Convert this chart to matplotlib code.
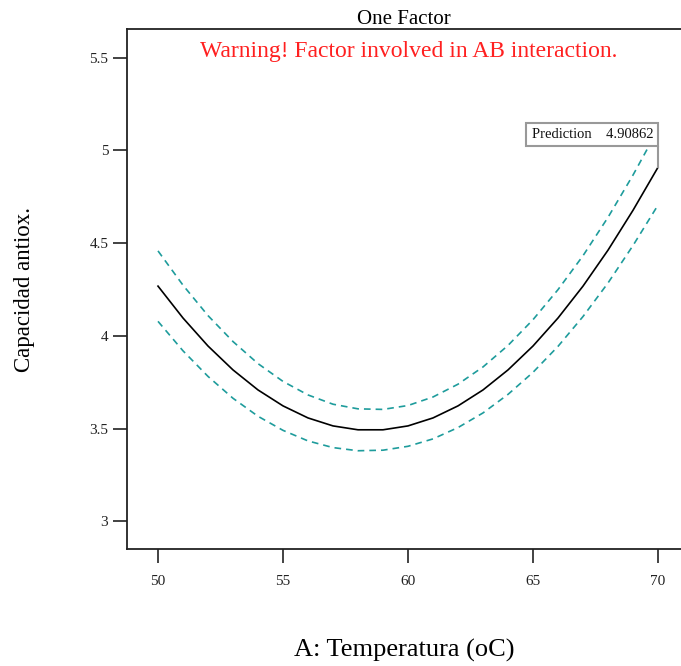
import matplotlib
matplotlib.use("Agg")
import matplotlib.pyplot as plt

# Data
temperature = [50, 51, 52, 53, 54, 55, 56, 57, 58, 59, 60,
               61, 62, 63, 64, 65, 66, 67, 68, 69, 70]
prediction = [4.268, 4.096, 3.945, 3.816, 3.708, 3.622, 3.557, 3.514, 3.493, 3.493, 3.514,
              3.557, 3.622, 3.708, 3.816, 3.945, 4.096, 4.268, 4.462, 4.677, 4.909]
upper_ci = [4.458, 4.273, 4.109, 3.969, 3.850, 3.754, 3.681, 3.631, 3.606, 3.603, 3.624,
            3.670, 3.739, 3.832, 3.948, 4.087, 4.249, 4.432, 4.639, 4.867, 5.113]
lower_ci = [4.078, 3.919, 3.781, 3.663, 3.566, 3.490, 3.433, 3.397, 3.380, 3.383, 3.404,
            3.444, 3.505, 3.584, 3.684, 3.803, 3.943, 4.104, 4.285, 4.487, 4.705]
x_ticks = [50, 55, 60, 65, 70]
y_ticks = [3, 3.5, 4, 4.5, 5, 5.5]
y_tick_labels = ["3", "3.5", "4", "4.5", "5", "5.5"]
pred_x = 70
pred_value = 4.90862

serif = ["Liberation Serif", "DejaVu Serif"]
plt.rcParams["font.family"] = serif

W, H = 681, 666
fig = plt.figure(figsize=(W / 100, H / 100), dpi=100)
left, right, top, bottom = 127, 681, 29, 549
ax = fig.add_axes([left / W, 1 - bottom / H, (right - left) / W, (bottom - top) / H])

teal = "#1e9c9c"
ax.plot(temperature, upper_ci, color=teal, lw=1.2, ls=(0, (4, 3)), zorder=2)
ax.plot(temperature, lower_ci, color=teal, lw=1.2, ls=(0, (4, 3)), zorder=2)
ax.plot(temperature, prediction, color="black", lw=1.2, zorder=3)

ax.set_xlim(48.76, 70.92)
ax.set_ylim(2.85, 5.655)
ax.set_xticks(x_ticks)
ax.set_xticklabels([str(v) for v in x_ticks])
ax.set_yticks(y_ticks)
ax.set_yticklabels(y_tick_labels)

for s in ["left", "bottom", "top"]:
    ax.spines[s].set_linewidth(1.3)
    ax.spines[s].set_color("#222222")
ax.spines["right"].set_visible(False)

ax.tick_params(axis="y", direction="out", length=10, width=1.2, labelsize=11, pad=3.5, colors="#222222")
ax.tick_params(axis="x", direction="out", length=10, width=1.2, labelsize=11, pad=8.5, colors="#222222")

ax.set_title("One Factor", fontsize=15, pad=3)
ax.text(0.508, 0.956, "Warning! Factor involved in AB interaction.", transform=ax.transAxes,
        ha="center", va="center", color="#ff2020", fontsize=17)

ax.set_xlabel("A: Temperatura (oC)", fontsize=19, labelpad=37)
ax.set_ylabel("Capacidad antiox.", fontsize=16.5, labelpad=39)

# Prediction annotation box
ax.plot([pred_x, pred_x], [pred_value, 5.02], color="#999999", lw=1.5, zorder=4)
ax.annotate("Prediction    4.90862", xy=(pred_x, 5.086), xytext=(-5, 0),
            textcoords="offset pixels", ha="right", va="center", fontsize=10.5,
            color="#111111", zorder=5,
            bbox=dict(boxstyle="square,pad=0.35", fc="white", ec="#999999", lw=1.5))

fig.savefig("out.png", dpi=100)
